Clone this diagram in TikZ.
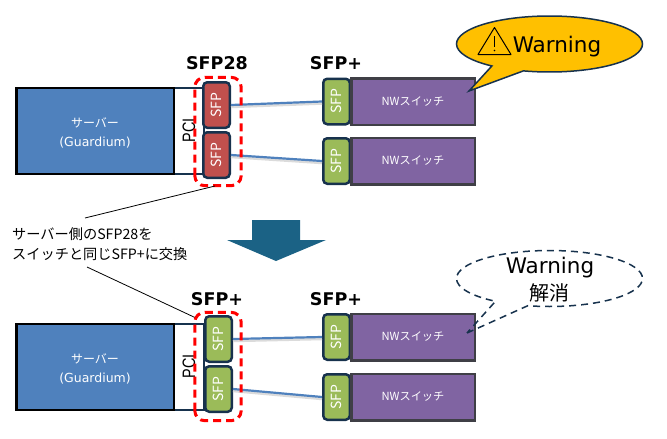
\documentclass[tikz,border=0pt]{standalone}
\usepackage{fontspec}
\setmainfont{DejaVu Sans}
\newfontfamily\cjkf{Noto Sans CJK JP}
\newfontfamily\pcif[FakeStretch=0.8]{Liberation Sans}
\usetikzlibrary{shapes.callouts}
\definecolor{navyb}{HTML}{17324D}
\definecolor{srvblue}{HTML}{4F81BD}
\definecolor{sfpred}{HTML}{C0504D}
\definecolor{sfpgreen}{HTML}{9BBB59}
\definecolor{nwpurple}{HTML}{8064A2}
\definecolor{nwborder}{HTML}{3F3F46}
\definecolor{warnfill}{HTML}{FFC000}
\definecolor{arrowblue}{HTML}{1B6285}
\tikzset{
  x=1pt,y=-1pt,
  server/.style={draw=black,line width=2.5pt,fill=srvblue,minimum width=157.5pt,minimum height=86pt,inner sep=0pt},
  servertext/.style={inner sep=0pt,text=white,align=center,font=\fontsize{12.5}{19}\selectfont},
  pcibox/.style={draw=navyb,line width=2pt,fill=white,minimum width=30pt,minimum height=86pt,inner sep=0pt},
  pcilabel/.style={rotate=90,inner sep=0pt,font=\pcif\fontsize{18}{18}\selectfont},
  sfpbox/.style={draw=navyb,line width=2.5pt,rounded corners=4pt,minimum width=26.5pt,minimum height=45.5pt,inner sep=0pt},
  sfpred/.style={sfpbox,fill=sfpred},
  sfpgreen/.style={sfpbox,fill=sfpgreen},
  sfplabel/.style={rotate=90,text=white,inner sep=0pt,font=\cjkf\fontsize{14}{14}\selectfont},
  nwbox/.style={draw=nwborder,line width=2.5pt,fill=nwpurple,minimum width=123.5pt,minimum height=46.5pt,inner sep=0pt,text=white,font=\cjkf\fontsize{11.2}{11.2}\selectfont},
  link/.style={draw=srvblue,line width=2.2pt,preaction={draw=black!14,line width=2.5pt,transform canvas={yshift=-2pt}}},
  zone/.style={draw=red,line width=3pt,rounded corners=10pt,dash pattern=on 8pt off 5pt},
  head/.style={inner sep=0pt,font=\bfseries\fontsize{17.5}{17.5}\selectfont},
  leader/.style={draw=black,line width=0.8pt},
  wcall/.style={ellipse callout,draw=navyb,line width=1.5pt,minimum width=186pt,minimum height=56pt,inner sep=0pt,callout pointer arc=22},
  note/.style={inner sep=0pt,align=left,font=\cjkf\fontsize{14.2}{20}\selectfont}
}
\begin{document}
\begin{tikzpicture}
\useasboundingbox (0,0) rectangle (667,439);
% --- upper group
\node[pcibox] (pciA) at (189,131) {};
\node[server] (srvA) at (95,131) {};
\node[servertext] (srvAt) at (95,132.5) {{\cjkf\fontsize{12}{19}\selectfont サーバー}\\(Guardium)};
\node[pcilabel] (pciAt) at (189,130) {PCI};
\node[sfpred] (a1) at (216.5,105) {};
\node[sfplabel] at (a1) {SFP};
\node[sfpred] (a2) at (216.5,155) {};
\node[sfplabel] at (a2) {SFP};
\node[sfpgreen] (b1) at (336.5,101.5) {};
\node[sfplabel] at (b1) {SFP};
\node[sfpgreen] (b2) at (336.5,161) {};
\node[sfplabel] at (b2) {SFP};
\node[nwbox] (n1) at (413,101.5) {NWスイッチ};
\node[nwbox] (n2) at (413,161) {NWスイッチ};
\draw[link] (a1.east) -- (b1.west);
\draw[link] (a2.east) -- (b2.west);
\node[draw=none,minimum width=46pt,minimum height=108pt,inner sep=0pt] (zoneA) at (218,131.5) {};
\draw[zone] (zoneA.south west) rectangle (zoneA.north east);
\node[head] (hA) at (217,63) {SFP28};
\node[head] (hB) at (336,63) {SFP+};
\node[wcall,fill=warnfill,callout absolute pointer={(469,91)}] (warnA) at (549.5,44) {};
\node[inner sep=0pt,font=\fontsize{21.5}{21.5}\selectfont] (warnAt) at (557,46.5) {Warning};
\draw[line width=1pt,line join=round] (494.5,27.5) -- (511,54.5) -- (478,54.5) -- cycle;
\draw[line width=1.2pt] (494.5,36) -- (494.5,47);
\fill (494.5,50.5) circle[radius=0.9];
% --- note and arrow
\node[note,anchor=west] (note) at (12,244) {サーバー側のSFP28を\\スイッチと同じSFP+に交換};
\coordinate (l1a) at (85,218);
\coordinate (l1b) at (215,186);
\coordinate (l2a) at (87,267);
\coordinate (l2b) at (196,318);
\draw[leader] (l1a) -- (l1b);
\draw[leader] (l2a) -- (l2b);
\fill[arrowblue] (252,220) -- (300,220) -- (300,240) -- (326,240) -- (276,261) -- (227,240) -- (252,240) -- cycle;
% --- lower group
\node[pcibox] (pciC) at (189,367) {};
\node[server] (srvC) at (95,367) {};
\node[servertext] (srvCt) at (95,368.5) {{\cjkf\fontsize{12}{19}\selectfont サーバー}\\(Guardium)};
\node[pcilabel] (pciCt) at (189,366) {PCI};
\node[sfpgreen] (c1) at (218.5,339) {};
\node[sfplabel] at (c1) {SFP};
\node[sfpgreen] (c2) at (218.5,389) {};
\node[sfplabel] at (c2) {SFP};
\node[sfpgreen] (d1) at (336.5,337) {};
\node[sfplabel] at (d1) {SFP};
\node[sfpgreen] (d2) at (336.5,397) {};
\node[sfplabel] at (d2) {SFP};
\node[nwbox] (n3) at (413,337) {NWスイッチ};
\node[nwbox] (n4) at (413,397) {NWスイッチ};
\draw[link] (c1.east) -- (d1.west);
\draw[link] (c2.east) -- (d2.west);
\node[draw=none,minimum width=46pt,minimum height=108pt,inner sep=0pt] (zoneC) at (218,366.5) {};
\draw[zone] (zoneC.south west) rectangle (zoneC.north east);
\node[head] (hC) at (217,299) {SFP+};
\node[head] (hD) at (336,299) {SFP+};
\node[wcall,dashed,dash pattern=on 7pt off 5pt,callout absolute pointer={(467,333)}] (warnC) at (549.5,278.5) {};
\node[inner sep=0pt,font=\fontsize{21.5}{21.5}\selectfont] (warnCt) at (550,268) {Warning};
\node[inner sep=0pt,font=\cjkf\fontsize{20}{20}\selectfont] (warnCj) at (549,293) {解消};
\end{tikzpicture}
\end{document}
